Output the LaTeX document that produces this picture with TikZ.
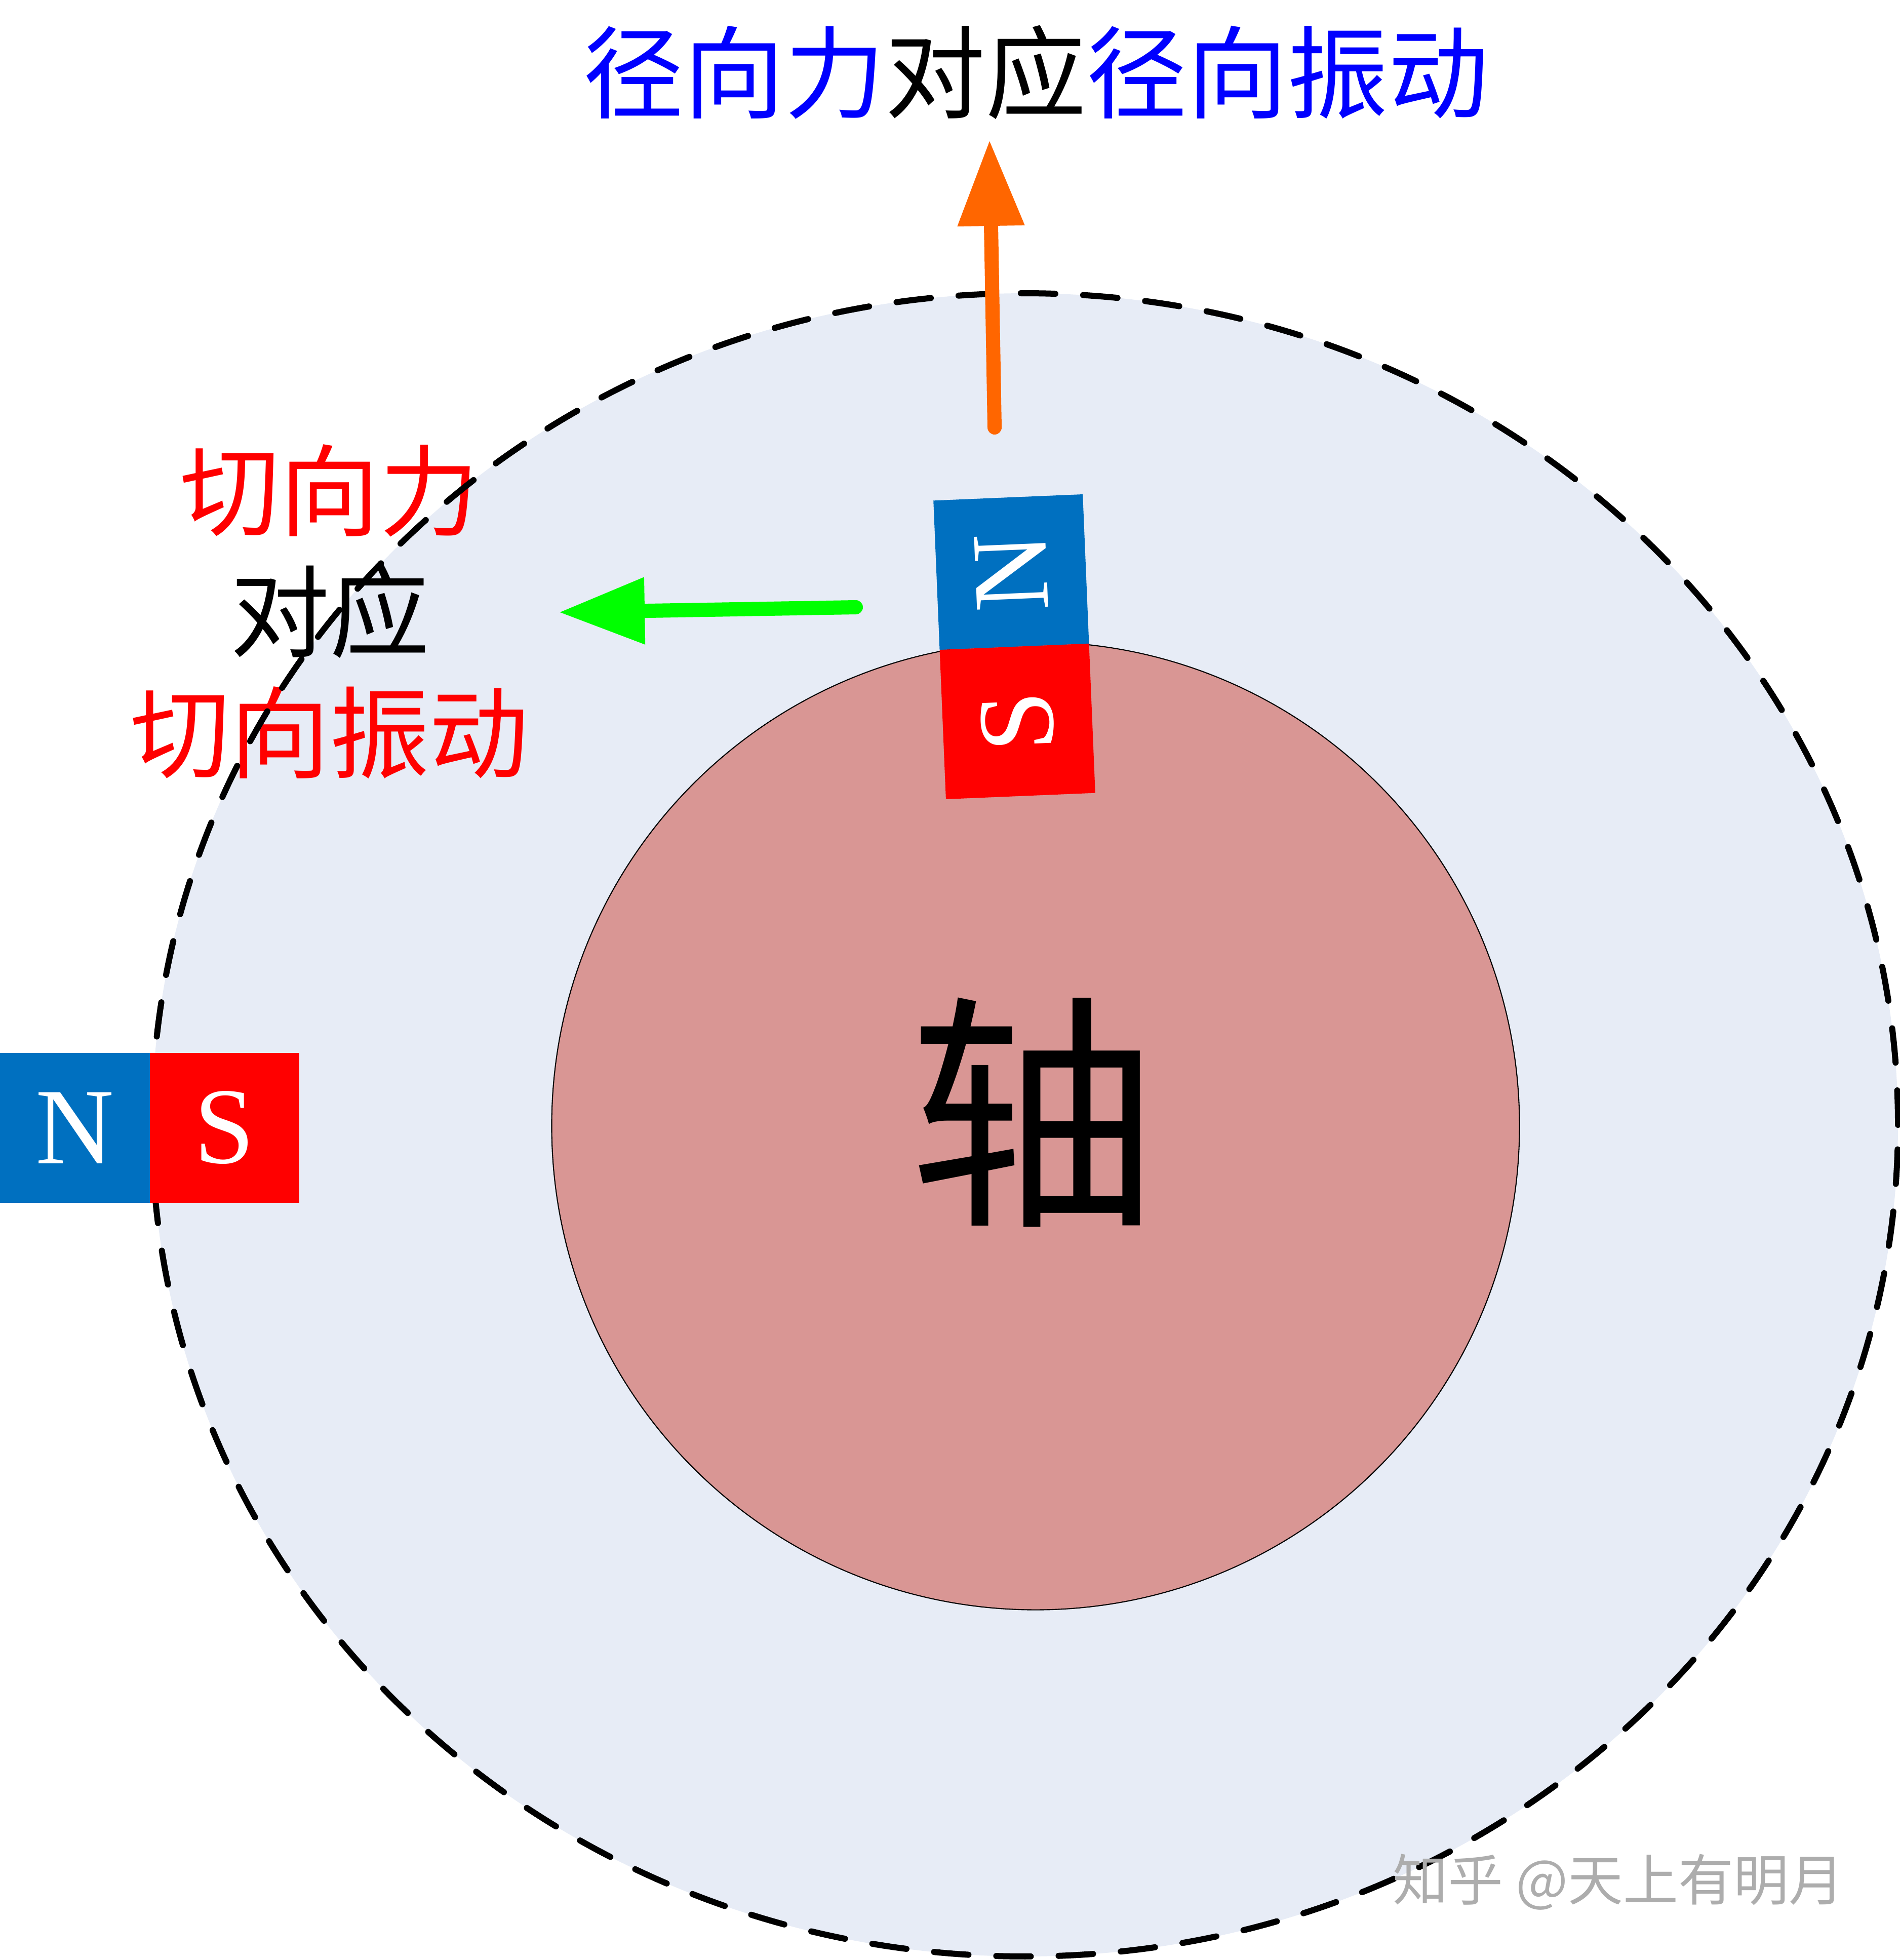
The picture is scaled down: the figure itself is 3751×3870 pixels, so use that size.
\documentclass[tikz,border=0pt]{standalone}
\usepackage{fontspec}
\setmainfont{Liberation Serif}
\newfontfamily\cjk{Noto Sans CJK SC}
\usetikzlibrary{arrows.meta,positioning,shapes.geometric}

\definecolor{ringblue}{HTML}{E7ECF6}
\definecolor{shaftpink}{HTML}{D99694}
\definecolor{nblue}{HTML}{0070C0}
\definecolor{sred}{HTML}{FF0000}
\definecolor{forceorange}{HTML}{FF6600}
\definecolor{forcegreen}{HTML}{00FF00}
\definecolor{titleblue}{HTML}{0000FF}
\definecolor{markgray}{HTML}{ADADAD}

\begin{document}
\begin{tikzpicture}[x=0.01cm,y=-0.01cm,
    ring/.style={ellipse,minimum width=34.46cm,minimum height=32.82cm,inner sep=0pt},
    magnet/.style={rectangle,minimum size=2.95cm,inner sep=0pt,outer sep=0pt,text=white,font=\fontsize{61}{61}\selectfont},
    force/.style={line width=0.28cm,line cap=round,-{Triangle[length=1.7cm,width=1.25cm]}}]
    \useasboundingbox (0,0) rectangle (3751,3870);
%
    \node[ring,fill=ringblue] (rotor) at (2024,2221) {};
    \node[font=\cjk\fontsize{56}{68}\selectfont,align=center] (tanlabel) at (651,1208)
        {\textcolor{sred}{切向力}\\对应\\\textcolor{sred}{切向振动}};
    \node[ring,draw=black,line width=0.12cm,line cap=round,dash pattern=on 0.68cm off 0.55cm] (rim) at (rotor) {};
%
    \node[circle,draw=black,line width=0.6pt,fill=shaftpink,minimum size=19.1cm,inner sep=0pt] (shaft) at (2045,2223) {};
    \node[font=\cjk\fontsize{140}{140}\selectfont] (shaftlabel) at (2040,2196) {轴};
%
    \node[magnet,fill=nblue] (leftN) at (148,2227) {N};
    \node[magnet,fill=sred,right=0pt of leftN] (leftS) {S};
    \begin{scope}[shift={(2003,1277)},rotate=2.4,transform shape]
        \node[magnet,fill=nblue,rotate=90] (topN) at (0,-147.5) {N};
        \node[magnet,fill=sred,rotate=90] (topS) at (0,147.5) {S};
    \end{scope}
%
    \coordinate (radialtail) at (1964,844);
    \coordinate (radialtip) at (1954,276);
    \coordinate (tantail) at (1690,1199);
    \coordinate (tantip) at (1103,1209);
    \draw[force,forceorange] (radialtail) -- (radialtip);
    \draw[force,forcegreen] (tantail) -- (tantip);
%
    \node[font=\cjk\fontsize{56.5}{56.5}\selectfont] (title) at (2046,143)
        {\textcolor{titleblue}{径向力}对应\textcolor{titleblue}{径向振动}};
    \node[font=\cjk\fontsize{31}{31}\selectfont,text=markgray] (watermark) at (3196,3716) {知乎 @天上有明月};
\end{tikzpicture}
\end{document}
